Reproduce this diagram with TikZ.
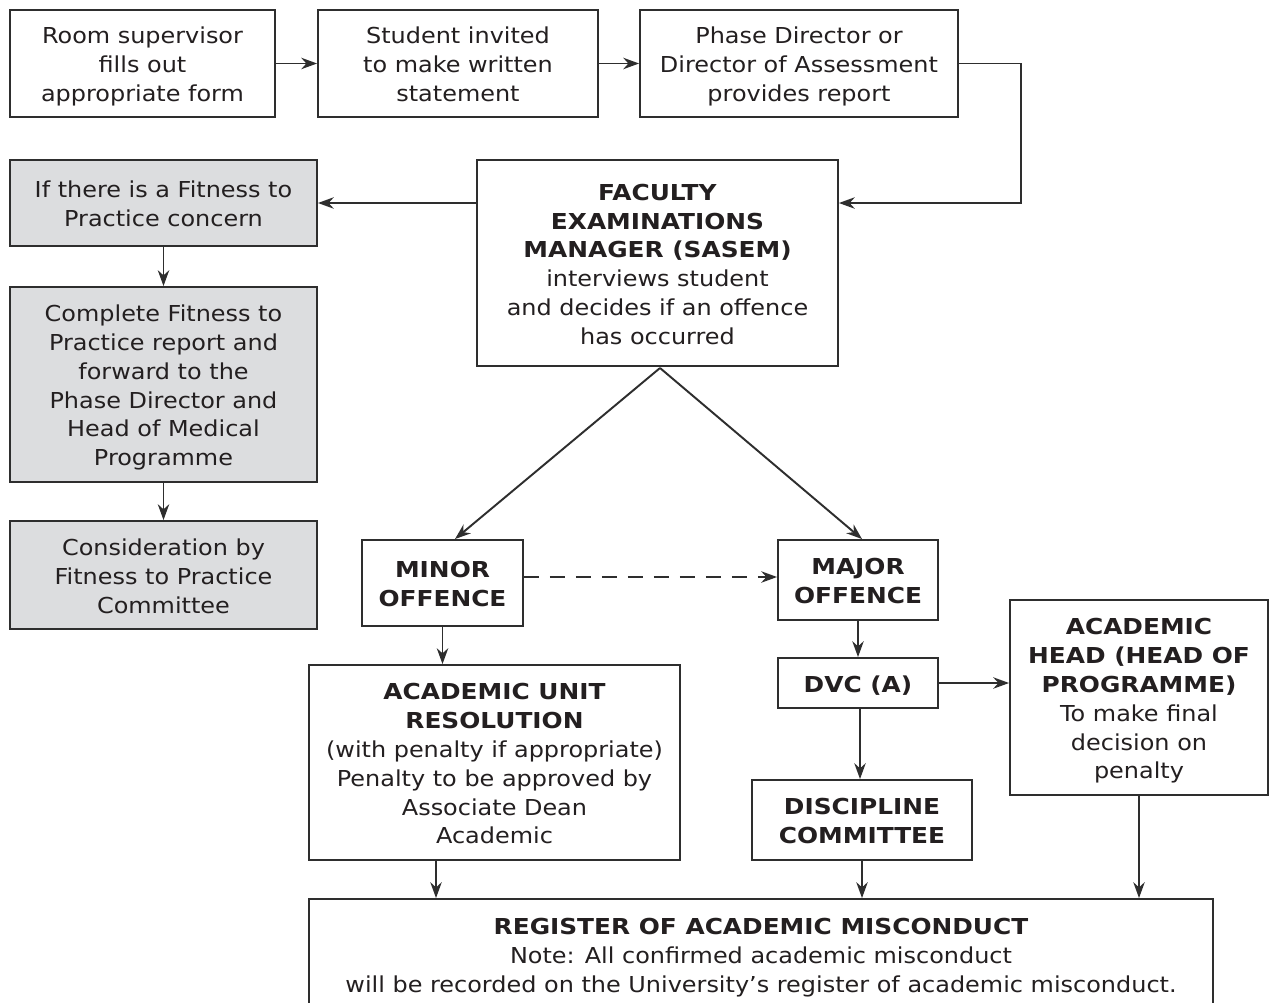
\documentclass[tikz,border=0pt]{standalone}
\usepackage{fontspec}
\setmainfont{DejaVu Sans}[FakeStretch=1.09, BoldFeatures={FakeStretch=1.13}]
\usetikzlibrary{arrows.meta}
\definecolor{txt}{HTML}{231F20}
\definecolor{ln}{HTML}{2E2E2E}
\definecolor{fillg}{HTML}{DCDDDF}
\newcommand\bx[1]{\raisebox{-2pt}[\height][\depth]{\begin{tabular}{@{}c@{}}#1\end{tabular}}}
\tikzset{
  box/.style={draw=ln, line width=1.1pt, rectangle, inner sep=0pt,
    text=txt, font=\fontsize{12.5}{16.4}\selectfont, fill=white},
  gbox/.style={box, fill=fillg},
  arr/.style={draw=ln, line width=1.1pt, -{Stealth[length=9pt,width=6.5pt]}},
}
\begin{document}
\begin{tikzpicture}[x=0.02cm,y=-0.02cm]
\clip (0,0) rectangle (1270,1003);
\fill[white] (0,0) rectangle (1270,1003);
% top row
\node[box, minimum width=5.3cm, minimum height=2.14cm] (room) at (142.5,63.5)
  {\bx{Room supervisor\\fills out\\appropriate form}};
\node[box, minimum width=5.6cm, minimum height=2.14cm] (stud) at (458,63.5)
  {\bx{Student invited\\to make written\\statement}};
\node[box, minimum width=6.36cm, minimum height=2.14cm] (pd) at (799,63.5)
  {\bx{Phase Director or\\Director of Assessment\\provides report}};
% faculty examinations manager
\node[box, minimum width=7.22cm, minimum height=4.12cm] (fem) at (657.5,263)
  {\bx{\textbf{FACULTY}\\\textbf{EXAMINATIONS}\\\textbf{MANAGER (SASEM)}\\interviews student\\and decides if an offence\\has occurred}};
% fitness to practice column
\node[gbox, minimum width=6.14cm, minimum height=1.72cm] (fit1) at (163.5,203)
  {\bx{If there is a Fitness to\\Practice concern}};
\node[gbox, minimum width=6.14cm, minimum height=3.9cm] (fit2) at (163.5,384.5)
  {\bx{Complete Fitness to\\Practice report and\\forward to the\\Phase Director and\\Head of Medical\\Programme}};
\node[gbox, minimum width=6.14cm, minimum height=2.16cm] (fit3) at (163.5,575)
  {\bx{Consideration by\\Fitness to Practice\\Committee}};
% offences
\node[box, minimum width=3.22cm, minimum height=1.72cm] (minor) at (442.5,583)
  {\bx{\textbf{MINOR}\\\textbf{OFFENCE}}};
\node[box, minimum width=3.2cm, minimum height=1.6cm] (major) at (858,580)
  {\bx{\textbf{MAJOR}\\\textbf{OFFENCE}}};
\node[box, minimum width=7.42cm, minimum height=3.9cm] (aur) at (494.5,762.5)
  {\bx{\textbf{ACADEMIC UNIT}\\\textbf{RESOLUTION}\\(with penalty if appropriate)\\Penalty to be approved by\\Associate Dean\\Academic}};
\node[box, minimum width=3.2cm, minimum height=1.0cm] (dvc) at (858,683)
  {\bx{\textbf{DVC (A)}}};
\node[box, minimum width=5.16cm, minimum height=3.9cm] (head) at (1139,697.5)
  {\bx{\textbf{ACADEMIC}\\\textbf{HEAD (HEAD OF}\\\textbf{PROGRAMME)}\\To make final\\decision on\\penalty}};
\node[box, minimum width=4.4cm, minimum height=1.6cm] (disc) at (862,820)
  {\bx{\textbf{DISCIPLINE}\\\textbf{COMMITTEE}}};
\node[box, minimum width=18.08cm, minimum height=2.2cm] (reg) at (761,954)
  {\bx{\textbf{REGISTER OF ACADEMIC MISCONDUCT}\\Note: All confirmed academic misconduct\\will be recorded on the University’s register of academic misconduct.}};
% connectors
\draw[arr] (room.east) -- (stud.west);
\draw[arr] (stud.east) -- (pd.west);
\draw[arr] (pd.east) -- ++(1.24cm,0) |- ([yshift=1.2cm]fem.east);
\draw[arr] (fit1.east -| fem.west) -- (fit1.east);
\draw[arr] (fit1.south) -- (fit2.north);
\draw[arr] (fit2.south) -- (fit3.north);
\coordinate (apex) at (660,368);
\draw[arr] (apex) -- ([xshift=0.25cm]minor.north);
\draw[arr] (apex) -- ([xshift=0.08cm]major.north);
\draw[arr, dash pattern=on 0.3cm off 0.22cm] ([yshift=0.12cm]minor.east) -- ([yshift=0.12cm]minor.east -| major.west);
\draw[arr] (minor.south) -- (minor.south |- aur.north);
\draw[arr] (major.south) -- (dvc.north);
\draw[arr] (dvc.east) -- (dvc.east -| head.west);
\draw[arr] ([xshift=0.04cm]dvc.south) -- ([xshift=0.04cm]dvc.south |- disc.north);
\draw[arr] ([xshift=-1.17cm]aur.south) -- ([xshift=-1.17cm]aur.south |- reg.north);
\draw[arr] (disc.south) -- (disc.south |- reg.north);
\draw[arr] (head.south) -- (head.south |- reg.north);
\end{tikzpicture}
\end{document}
